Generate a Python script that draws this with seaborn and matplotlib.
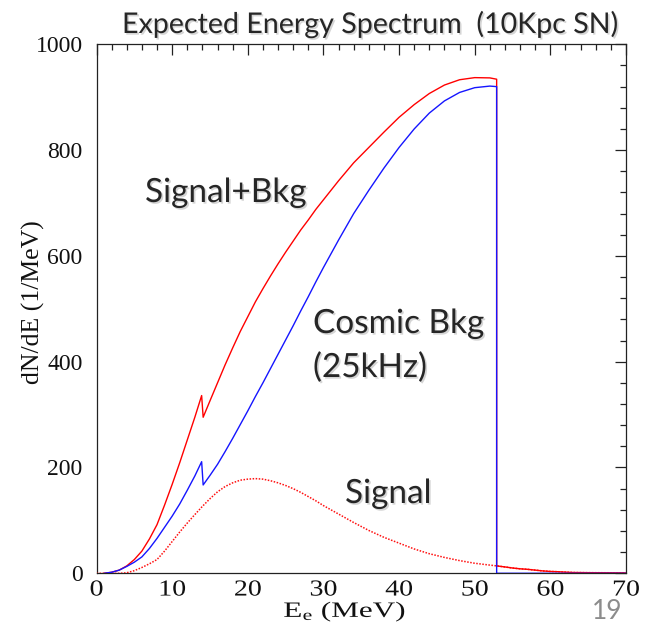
import numpy as np
import pandas as pd
import matplotlib
matplotlib.use("Agg")
import matplotlib.pyplot as plt
import matplotlib.patheffects as pe
from matplotlib.transforms import Affine2D
from matplotlib.ticker import MultipleLocator
import seaborn as sns

# Positron energy grid (MeV); 52.9 appears twice for the sharp edge of the background
energy = [0, 1, 2, 3, 4, 5, 6, 7, 8, 9, 10, 11, 12, 13, 13.9, 14.1, 15, 16, 17, 18,
          19, 20, 21, 22, 23, 24, 25, 26, 27, 28, 29, 30, 32, 34, 36, 38, 40, 42,
          44, 46, 48, 50, 52, 52.9, 52.9, 54, 55, 56, 57, 58, 59, 60, 61, 62, 63,
          65, 68, 70]

# Supernova signal, dN/dE (1/MeV)
signal = [0, 0, 0, 0, 1, 5, 11, 18, 26, 42, 60, 78, 95, 111, 125, 128, 141, 154, 164, 171,
          176, 178, 179, 178, 175, 171, 166, 160, 153, 145, 137, 128, 112, 96, 81, 68, 57, 46,
          37, 30, 24, 19, 15.5, 14, 14, 12, 10, 8.5, 7.5, 6, 4.5, 3.5, 3, 2.2, 1.5,
          1.2, 1, 0.8]

# Cosmic background at 25 kHz, dN/dE (1/MeV)
cosmic_bkg = [np.nan, 0, 2, 6, 13, 21, 31, 47, 66, 87, 108, 131, 157, 184, 211, 167, 185, 206, 230, 255,
              281, 307, 334, 360, 387, 414, 441, 468, 496, 523, 551, 578, 630, 680, 724, 766, 805, 840,
              870, 893, 909, 918, 921, 920, 0, 0, 0, 0, 0, 0, 0, 0, 0, 0, 0,
              0, 0, 0]

x_ticks = [0, 10, 20, 30, 40, 50, 60, 70]
y_ticks = [0, 200, 400, 600, 800, 1000]


class Stretched(pe.AbstractPathEffect):
    """Scale a text path horizontally about its centre, then draw it normally."""

    def __init__(self, sx):
        super().__init__()
        self.sx = sx

    def draw_path(self, renderer, gc, tpath, affine, rgbFace=None):
        ext = tpath.get_extents(affine)
        cx = 0.5 * (ext.x0 + ext.x1)
        aff = affine + Affine2D().translate(-cx, 0).scale(self.sx, 1).translate(cx, 0)
        renderer.draw_path(gc, tpath, aff, rgbFace)


sns.set_theme(style="white")
plt.rcParams["font.family"] = ["Liberation Serif", "DejaVu Serif"]
plt.rcParams["mathtext.fontset"] = "custom"
plt.rcParams["mathtext.rm"] = "Liberation Serif"
plt.rcParams["mathtext.it"] = "Liberation Serif:italic"

df = pd.DataFrame({"E": energy, "signal": signal, "bkg": cosmic_bkg})
df["total"] = df["signal"] + df["bkg"]

W, H = 646, 624
fig = plt.figure(figsize=(W / 100, H / 100), dpi=100)
x0, x1, y0, y1 = 96.5, 626.0, 44.3, 573.3
ax = fig.add_axes([x0 / W, 1 - y1 / H, (x1 - x0) / W, (y1 - y0) / H])

sig = df[["E", "signal"]].dropna()
tot = df[["E", "total"]].dropna()
bkg = df[["E", "bkg"]].dropna()

sns.lineplot(data=sig, x="E", y="signal", ax=ax, color="#ff1010", lw=1.1,
             linestyle=(0, (1, 1)), estimator=None, sort=False, zorder=3)
sns.lineplot(data=tot, x="E", y="total", ax=ax, color="#ff0000", lw=1.0,
             estimator=None, sort=False, zorder=3)
sns.lineplot(data=bkg, x="E", y="bkg", ax=ax, color="#1515ff", lw=1.0,
             estimator=None, sort=False, zorder=3.1)

ax.set_xlim(0, 70)
ax.set_ylim(0, 1000)
ax.set_xticks(x_ticks)
ax.set_yticks(y_ticks)
ax.xaxis.set_minor_locator(MultipleLocator(2))
ax.yaxis.set_minor_locator(MultipleLocator(40))
ax.tick_params(which="both", direction="in", top=True, right=True, color="#222222", width=0.9)
ax.tick_params(which="major", length=8, labelcolor="#111111")
ax.tick_params(which="minor", length=4)
ax.tick_params(axis="y", pad=10, labelsize=17)
ax.tick_params(axis="x", pad=4.5, labelsize=16.5)
for s in ax.spines.values():
    s.set_color("#222222")
    s.set_linewidth(0.9)
ax.grid(False)
for lbl in ax.get_xticklabels():
    lbl.set_path_effects([Stretched(1.22)])

ax.set_xlabel(r"E$_{\mathrm{e}}$ (MeV)", fontsize=15.8, color="#111111",
              path_effects=[Stretched(1.42)])
ax.set_ylabel("dN/dE (1/MeV)", fontsize=18.5, color="#111111")
ax.xaxis.set_label_coords((345 - x0) / (x1 - x0), (y1 - 600.5) / (y1 - y0))
ax.yaxis.set_label_coords((45 - x0) / (x1 - x0), (y1 - 302) / (y1 - y0))

sans = ["Lato", "DejaVu Sans"]
shadow = [pe.SimplePatchShadow(offset=(1.2, -1.2), shadow_rgbFace="#888888", alpha=0.35), pe.Normal()]


def label(px, py, text, size, **kw):
    fig.text(px / W, 1 - py / H, text, fontsize=size, family=sans, va="baseline", ha="left",
             path_effects=shadow, **kw)


label(122, 33, "Expected Energy Spectrum  (10Kpc SN)", 20.6)
label(145, 202, "Signal+Bkg", 24)
label(313, 333, "Cosmic Bkg", 24)
label(313, 377, "(25kHz)", 24)
label(345, 503, "Signal", 24)
fig.text(592 / W, 1 - 619 / H, "19", fontsize=19, family=sans, color="#8c8c8c",
         va="baseline", ha="left")

fig.savefig("out.png", dpi=100)
